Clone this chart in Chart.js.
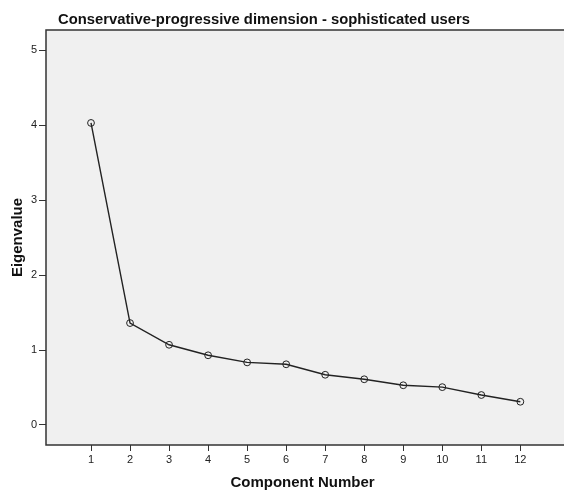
<!DOCTYPE html>
<html>
<head>
<meta charset="utf-8">
<script src="https://cdn.jsdelivr.net/npm/chart.js@4"></script>
<style>
  html, body { margin: 0; padding: 0; background: #fff; }
  #wrap { width: 564px; height: 493px; }
</style>
</head>
<body>
<div id="wrap"><canvas id="scree"></canvas></div>
<script>
const chartTitle = 'Conservative-progressive dimension - sophisticated users';
const components = [1, 2, 3, 4, 5, 6, 7, 8, 9, 10, 11, 12];
const eigenvalues = [4.03, 1.36, 1.07, 0.93, 0.835, 0.81, 0.67, 0.61, 0.53, 0.505, 0.40, 0.31];
const yTicks = [0, 1, 2, 3, 4, 5];

const FONT = "'Liberation Sans', Arial, sans-serif";

// grey plot panel, frame and the title on top
const framePlugin = {
  id: 'framePlugin',
  beforeDraw(chart) {
    const { ctx, chartArea: a } = chart;
    ctx.save();
    ctx.fillStyle = '#f0f0f0';
    ctx.fillRect(a.left, a.top, chart.width - a.left, a.bottom - a.top);
    ctx.restore();
  },
  afterDraw(chart) {
    const { ctx, chartArea: a } = chart;
    ctx.save();
    ctx.strokeStyle = '#333';
    ctx.lineWidth = 1.5;
    ctx.beginPath();
    ctx.moveTo(chart.width, a.top);
    ctx.lineTo(a.left, a.top);
    ctx.lineTo(a.left, a.bottom);
    ctx.lineTo(chart.width, a.bottom);
    ctx.stroke();
    ctx.fillStyle = '#111';
    ctx.font = 'bold 14.8px ' + FONT;
    ctx.textAlign = 'left';
    ctx.textBaseline = 'alphabetic';
    ctx.fillText(chartTitle, 58, 24);
    ctx.restore();
  }
};

new Chart(document.getElementById('scree'), {
  type: 'line',
  data: {
    datasets: [{
      data: components.map((c, i) => ({ x: c, y: eigenvalues[i] })),
      borderColor: '#222',
      borderWidth: 1.4,
      pointRadius: 3.4,
      pointBorderWidth: 1,
      pointBorderColor: '#222',
      pointBackgroundColor: 'rgba(0,0,0,0)',
      tension: 0
    }]
  },
  options: {
    responsive: true,
    maintainAspectRatio: false,
    animation: false,
    devicePixelRatio: 1,
    layout: { padding: { top: 30, right: 0, left: 0, bottom: 0 } },
    plugins: { legend: { display: false }, tooltip: { enabled: false }, title: { display: false } },
    scales: {
      x: {
        type: 'linear',
        min: -0.153,
        max: 12.99,
        afterBuildTicks: s => { s.ticks = components.map(v => ({ value: v })); },
        afterFit: s => { s.height = 48; },
        ticks: { font: { family: FONT, size: 11 }, color: '#222', padding: 2, maxRotation: 0, autoSkip: false },
        grid: { drawOnChartArea: false, tickLength: 6, color: '#333', lineWidth: 1 },
        border: { display: false },
        title: { display: true, text: 'Component Number', font: { family: FONT, size: 15, weight: 'bold' }, color: '#111', padding: { top: 0, bottom: 1 } }
      },
      y: {
        min: -0.267,
        max: 5.27,
        afterBuildTicks: s => { s.ticks = yTicks.map(v => ({ value: v })); },
        afterFit: s => { s.width = 46; },
        ticks: { font: { family: FONT, size: 11 }, color: '#222', padding: 2 },
        grid: { drawOnChartArea: false, tickLength: 7, color: '#333', lineWidth: 1 },
        border: { display: false },
        title: { display: true, text: 'Eigenvalue', font: { family: FONT, size: 15, weight: 'bold' }, color: '#111', padding: { top: 9, bottom: 0 } }
      }
    }
  },
  plugins: [framePlugin]
});
</script>
</body>
</html>
